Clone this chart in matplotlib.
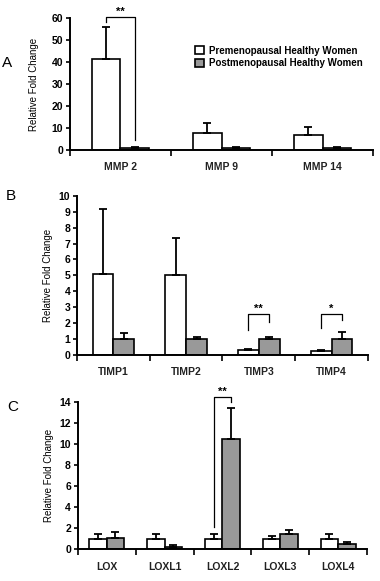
import numpy as np
import matplotlib.pyplot as plt

plt.rcParams['font.family'] = ['Liberation Sans', 'DejaVu Sans']
plt.rcParams['font.weight'] = 'bold'

# panel A
mmp_genes = ['MMP 2', 'MMP 9', 'MMP 14']
mmp_pre = [41.2, 7.5, 7.0]
mmp_pre_top = [56.0, 12.2, 10.3]
mmp_post = [1.0, 1.0, 1.0]
mmp_post_top = [1.2, 1.5, 1.2]

# panel B
timp_genes = ['TIMP1', 'TIMP2', 'TIMP3', 'TIMP4']
timp_pre = [5.1, 5.0, 0.3, 0.25]
timp_pre_top = [9.2, 7.35, 0.37, 0.32]
timp_post = [1.0, 1.0, 1.0, 1.0]
timp_post_top = [1.35, 1.15, 1.1, 1.45]

# panel C
lox_genes = ['LOX', 'LOXL1', 'LOXL2', 'LOXL3', 'LOXL4']
lox_pre = [1.0, 1.0, 1.0, 1.0, 1.0]
lox_pre_top = [1.4, 1.4, 1.4, 1.25, 1.4]
lox_post = [1.05, 0.2, 10.5, 1.45, 0.45]
lox_post_top = [1.65, 0.35, 13.4, 1.8, 0.65]

gray = '#999999'


def panel(ax, genes, pre, pre_top, post, post_top, ymax, ystep, w, lpad):
    x = np.arange(len(genes))
    pre = np.array(pre)
    post = np.array(post)
    ax.bar(x - w / 2, pre, w, color='white', edgecolor='black', linewidth=1.2,
           label='Premenopausal Healthy Women')
    ax.bar(x + w / 2, post, w, color=gray, edgecolor='black', linewidth=1.2,
           label='Postmenopausal Healthy Women')
    ax.errorbar(x - w / 2, pre, yerr=[np.zeros(len(x)), np.array(pre_top) - pre],
                fmt='none', ecolor='black', elinewidth=1.3, capsize=3, capthick=1.3)
    ax.errorbar(x + w / 2, post, yerr=[np.zeros(len(x)), np.array(post_top) - post],
                fmt='none', ecolor='black', elinewidth=1.3, capsize=3, capthick=1.3)
    ax.set_xlim(-0.5, len(genes) - 0.5)
    ax.set_ylim(0, ymax)
    ax.set_yticks(np.arange(0, ymax + 0.01, ystep))
    ax.set_xticks(x)
    ax.set_xticklabels(genes, fontsize=7.5, color='#222222')
    ax.set_xticks(np.arange(-0.5, len(genes)), minor=True)
    ax.tick_params(axis='x', which='major', length=0, pad=9)
    ax.tick_params(axis='x', which='minor', length=4, width=1.2)
    ax.tick_params(axis='y', length=3, width=1.2, labelsize=7.5, pad=2)
    for s in ['top', 'right']:
        ax.spines[s].set_visible(False)
    for s in ['left', 'bottom']:
        ax.spines[s].set_linewidth(1.4)
    ax.set_ylabel('Relative Fold Change', fontsize=7, labelpad=lpad)


def bracket(ax, x0, x1, ytop, yl, yr, stars):
    ax.plot([x0, x0, x1, x1], [yl, ytop, ytop, yr], color='black', lw=0.9, clip_on=False)
    ax.text((x0 + x1) / 2, ytop, stars, ha='center', va='bottom', fontsize=8, clip_on=False)


fig = plt.figure(figsize=(3.8, 5.81), dpi=100)

axA = fig.add_axes([0.184, 0.742, 0.798, 0.227])
panel(axA, mmp_genes, mmp_pre, mmp_pre_top, mmp_post, mmp_post_top, 60, 10, 0.285, 9)
axA.legend(loc='upper left', bbox_to_anchor=(0.4, 0.82), frameon=False, fontsize=7,
           handlelength=0.9, handleheight=0.9, handletextpad=0.5, labelspacing=0.25,
           borderaxespad=0)
bracket(axA, -0.1425, 0.1425, 60.5, 58, 4.5, '**')

axB = fig.add_axes([0.203, 0.389, 0.765, 0.274])
panel(axB, timp_genes, timp_pre, timp_pre_top, timp_post, timp_post_top, 10, 1, 0.285, 4)
bracket(axB, 2 - 0.1425, 2 + 0.1425, 2.6, 1.6, 2.1, '**')
bracket(axB, 3 - 0.1425, 3 + 0.1425, 2.6, 1.7, 2.2, '*')

axC = fig.add_axes([0.205, 0.055, 0.761, 0.253])
panel(axC, lox_genes, lox_pre, lox_pre_top, lox_post, lox_post_top, 14, 2, 0.3, 4)
bracket(axC, 2 - 0.15, 2 + 0.15, 14.5, 2.1, 14.0, '**')

fig.text(0.005, 0.885, 'A', fontsize=11, fontweight='normal')
fig.text(0.015, 0.655, 'B', fontsize=11, fontweight='normal')
fig.text(0.018, 0.292, 'C', fontsize=11, fontweight='normal')

fig.savefig('out.png', dpi=100)
